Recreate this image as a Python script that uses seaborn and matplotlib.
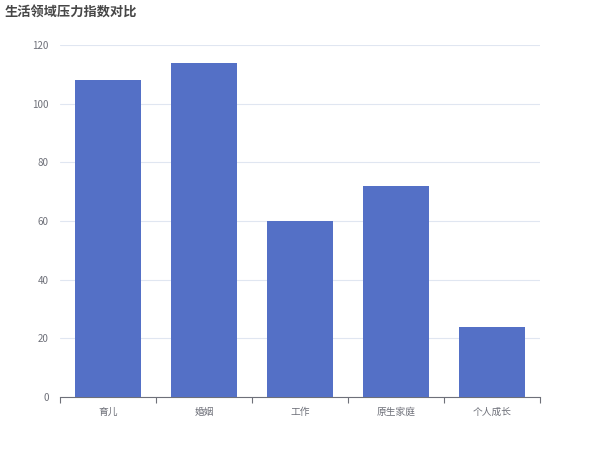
import numpy as np
import matplotlib.pyplot as plt
import seaborn as sns

categorias = ['育儿', '婚姻', '工作', '原生家庭', '个人成长']
valores = [108, 114, 60, 72, 24]
yticks = [0, 20, 40, 60, 80, 100, 120]

sns.set_style('white')
plt.rcParams['font.family'] = ['Noto Sans CJK SC', 'DejaVu Sans']

fig = plt.figure(figsize=(6, 4.5), dpi=100)
ax = fig.add_axes([0.1, 0.1178, 0.8, 0.7822])

sns.barplot(x=categorias, y=valores, color='#5470c6', width=0.69,
            saturation=1, linewidth=0, ax=ax, zorder=3)

ax.set_xlim(-0.5, len(categorias) - 0.5)
ax.set_ylim(0, 120)
ax.set_yticks(yticks)
ax.grid(axis='y', color='#e0e6f1', linewidth=0.8, zorder=0)
ax.set_axisbelow(True)

for s in ['top', 'right', 'left']:
    ax.spines[s].set_visible(False)
ax.spines['bottom'].set_color('#6e7079')
ax.spines['bottom'].set_linewidth(0.8)

# marcas del eje x entre categorias
ax.set_xticks(np.arange(-0.5, len(categorias)), minor=True)
ax.tick_params(axis='x', which='minor', bottom=True, length=4,
               color='#6e7079', width=0.8)
ax.tick_params(axis='x', which='major', length=0, labelsize=7,
               labelcolor='#6e7079', pad=7)
ax.tick_params(axis='y', length=0, labelsize=7, labelcolor='#6e7079', pad=8)
ax.set_xlabel('')
ax.set_ylabel('')

fig.text(0.008, 0.973, '生活领域压力指数对比', fontsize=9.5, fontweight='bold',
         color='#464646', ha='left', va='center')

fig.savefig('out.png', dpi=100)
